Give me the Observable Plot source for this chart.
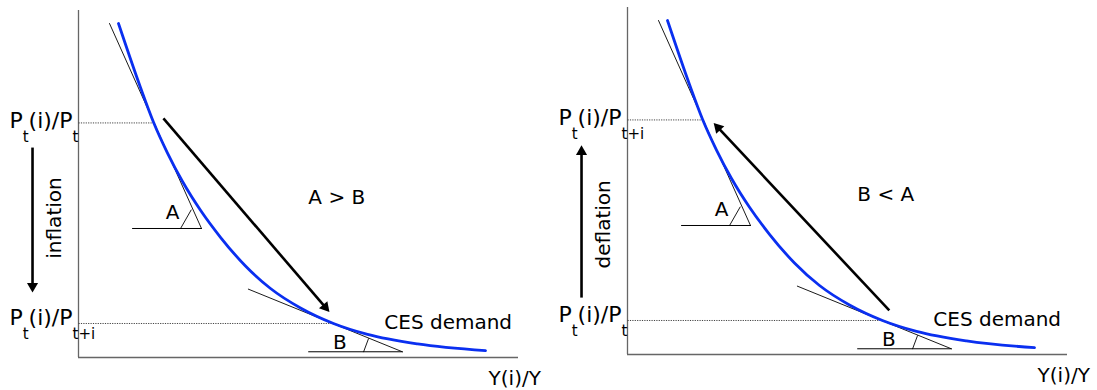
<!DOCTYPE html>
<html><head><meta charset="utf-8">
<script src="https://cdn.jsdelivr.net/npm/d3@7"></script>
<script src="https://cdn.jsdelivr.net/npm/@observablehq/plot@0.6"></script>
<style>
html,body{margin:0;padding:0;background:#fff;}
#wrap{display:flex;gap:1px;width:1097px;height:390px;overflow:hidden;}
#wrap svg{font-family:"DejaVu Sans",sans-serif;}
</style></head><body><div id="wrap"></div>
<script>
// CES demand curve: quantity Y(i)/Y and relative price P(i)/P (arbitrary 0–100 units)
const quantity = [9.09, 14.09, 17.05, 20.23, 23.64, 27.73, 32.27, 37.95, 43.64, 50.45, 57.95, 65.68, 77.05, 92.5];
const price    = [96.25, 77.81, 67.81, 58.93, 50.72, 42.43, 34.65, 26.37, 19.88, 14.27, 9.8, 6.66, 3.92, 1.96];

// tangency points A (high price) and B (low price)
const tangencyQuantity = [17.05, 57.95];
const tangencyPrice = [67.6, 9.8];

// tangent lines at A and B (two end points each)
const tangentAQuantity = [7.05, 27.95];
const tangentAPrice = [96.25, 37.18];
const tangentBQuantity = [38.6, 73.6];
const tangentBPrice = [19.7, 1.65];

// slope triangles: horizontal base [from, to] and angle tick [from, to]
const baseAQuantity = [12.27, 27.95];
const angleAQuantity = [23.2, 25.6];
const angleAPrice = [37.18, 42.5];
const baseBQuantity = [52.3, 73.6];
const angleBQuantity = [64.8, 65.9];
const angleBPrice = [1.65, 5.4];

// price-shift arrows (start quantity/price -> end quantity/price)
const shiftLeft  = [[19.3, 68.9], [57.3, 12.7]];
const shiftRight = [[59.5, 12.7], [19.3, 67.1]];

// vertical inflation / deflation arrows (price from -> to)
const inflationArrow = [60.5, 18.2];
const deflationArrow = [16.4, 60.8];

// texts
const priceLabelsLeft  = ["P_t(i)/P_t", "P_t(i)/P_{t+i}"];
const priceLabelsRight = ["P_t(i)/P_{t+i}", "P_t(i)/P_t"];
const directionLabels = ["inflation", "deflation"];
const compareLabels = ["A > B", "B < A"];
const curveLabel = "CES demand";
const axisLabel = "Y(i)/Y";
const triangleLabels = ["A", "B"];

const panels = [
  {top: 10, bottom: 33, priceLabels: priceLabelsLeft, direction: directionLabels[0], dirY: 40.2,
   compare: compareLabels[0], shift: shiftLeft, vertical: inflationArrow},
  {top: 7, bottom: 36, priceLabels: priceLabelsRight, direction: directionLabels[1], dirY: 37.5,
   compare: compareLabels[1], shift: shiftRight, vertical: deflationArrow}
];

function arrowMarks(x1, y1, x2, y2, kx, ky, width, r) {
  const dxp = (x2 - x1) * kx, dyp = -(y2 - y1) * ky;
  const len = Math.hypot(dxp, dyp);
  const ux = dxp / len, uy = dyp / len;
  const half = Math.sqrt(Math.PI * r * r / (3 * Math.sqrt(3)));
  const back = 2 * half;
  const cx = x2 - ux * back / kx, cy = y2 + uy * back / ky;
  const angle = Math.atan2(ux, -uy) * 180 / Math.PI;
  return [
    Plot.link([{x1, y1, x2: cx, y2: cy}], {x1: "x1", y1: "y1", x2: "x2", y2: "y2", stroke: "black", strokeWidth: width}),
    Plot.dot([{x: cx, y: cy}], {x: "x", y: "y", symbol: "triangle2", r, fill: "black", stroke: "none", rotate: angle})
  ];
}

function subscriptify(svg) {
  svg.querySelectorAll("text").forEach(t => {
    const s = t.textContent;
    if (!s.includes("_")) return;
    const re = /_(\{[^}]*\}|.)/g;
    const parts = [];
    let last = 0, m;
    while ((m = re.exec(s))) {
      parts.push([s.slice(last, m.index), false]);
      let sub = m[1];
      if (sub[0] === "{") sub = sub.slice(1, -1);
      parts.push([sub, true]);
      last = re.lastIndex;
    }
    parts.push([s.slice(last), false]);
    t.textContent = "";
    let shifted = false;
    for (const [txt, sub] of parts) {
      if (!txt) continue;
      const ts = document.createElementNS("http://www.w3.org/2000/svg", "tspan");
      if (sub && !shifted) { ts.setAttribute("dy", 14); shifted = true; }
      else if (!sub && shifted) { ts.setAttribute("dy", -14); shifted = false; }
      if (sub) ts.setAttribute("font-size", 15);
      ts.textContent = txt;
      t.appendChild(ts);
    }
  });
}

const W = 548, H = 390, ML = 78, MR = 30;
const curve = quantity.map((q, i) => ({x: q, y: price[i]}));
const pair = (xs, ys) => xs.map((x, i) => ({x, y: ys[i]}));

for (const p of panels) {
  const kx = (W - ML - MR) / 100, ky = (H - p.top - p.bottom) / 100;
  const dotted = tangencyQuantity.map((q, i) => ({x1: 0, x2: q, y: tangencyPrice[i]}));
  const svg = Plot.plot({
    width: W, height: H, marginLeft: ML, marginRight: MR, marginTop: p.top, marginBottom: p.bottom,
    x: {domain: [0, 100], axis: null},
    y: {domain: [0, 100], axis: null},
    style: {fontFamily: '"DejaVu Sans", sans-serif', background: "white", overflow: "visible", color: "black"},
    marks: [
      Plot.ruleX([0], {stroke: "#666", strokeWidth: 1.3}),
      Plot.ruleY([0], {stroke: "#666", strokeWidth: 1.3}),
      Plot.link(dotted, {x1: "x1", x2: "x2", y1: "y", y2: "y", stroke: "#444", strokeWidth: 1, strokeDasharray: "1.2,1.2"}),
      Plot.line(pair(tangentAQuantity, tangentAPrice), {x: "x", y: "y", stroke: "black", strokeWidth: 0.9}),
      Plot.line(pair(tangentBQuantity, tangentBPrice), {x: "x", y: "y", stroke: "black", strokeWidth: 0.9}),
      Plot.line(pair(baseAQuantity, [tangentAPrice[1], tangentAPrice[1]]), {x: "x", y: "y", stroke: "black", strokeWidth: 1}),
      Plot.line(pair(angleAQuantity, angleAPrice), {x: "x", y: "y", stroke: "black", strokeWidth: 0.9}),
      Plot.line(pair(baseBQuantity, [tangentBPrice[1], tangentBPrice[1]]), {x: "x", y: "y", stroke: "black", strokeWidth: 1}),
      Plot.line(pair(angleBQuantity, angleBPrice), {x: "x", y: "y", stroke: "black", strokeWidth: 0.9}),
      Plot.line(curve, {x: "x", y: "y", curve: "monotone-x", stroke: "#0a2ff0", strokeWidth: 2.8}),
      ...arrowMarks(p.shift[0][0], p.shift[0][1], p.shift[1][0], p.shift[1][1], kx, ky, 2.6, 5.3),
      ...arrowMarks(-10.45, p.vertical[0], -10.45, p.vertical[1], kx, ky, 2.6, 5.3),
      Plot.text([p.priceLabels[0]], {x: -15.7, y: tangencyPrice[0], text: d => d, textAnchor: "start", fontSize: 22, dy: -1.5, fill: "black"}),
      Plot.text([p.priceLabels[1]], {x: -15.7, y: tangencyPrice[1], text: d => d, textAnchor: "start", fontSize: 22, dy: -6, fill: "black"}),
      Plot.text([p.direction], {x: -5.5, y: p.dirY, text: d => d, rotate: -90, fontSize: 20, fill: "black"}),
      Plot.text([p.compare], {x: 58.7, y: 46, text: d => d, fontSize: 20, fill: "black"}),
      Plot.text([curveLabel], {x: 69.5, y: 10.2, text: d => d, textAnchor: "start", fontSize: 20, fill: "black"}),
      Plot.text([axisLabel], {x: 93.2, y: -6, text: d => d, textAnchor: "start", fontSize: 20, fill: "black"}),
      Plot.text(triangleLabels, {x: [21.4, 59.4], y: [41.7, 4.2], text: d => d, fontSize: 20, fill: "black"})
    ]
  });
  subscriptify(svg);
  document.getElementById("wrap").appendChild(svg);
}
</script>
</body></html>
